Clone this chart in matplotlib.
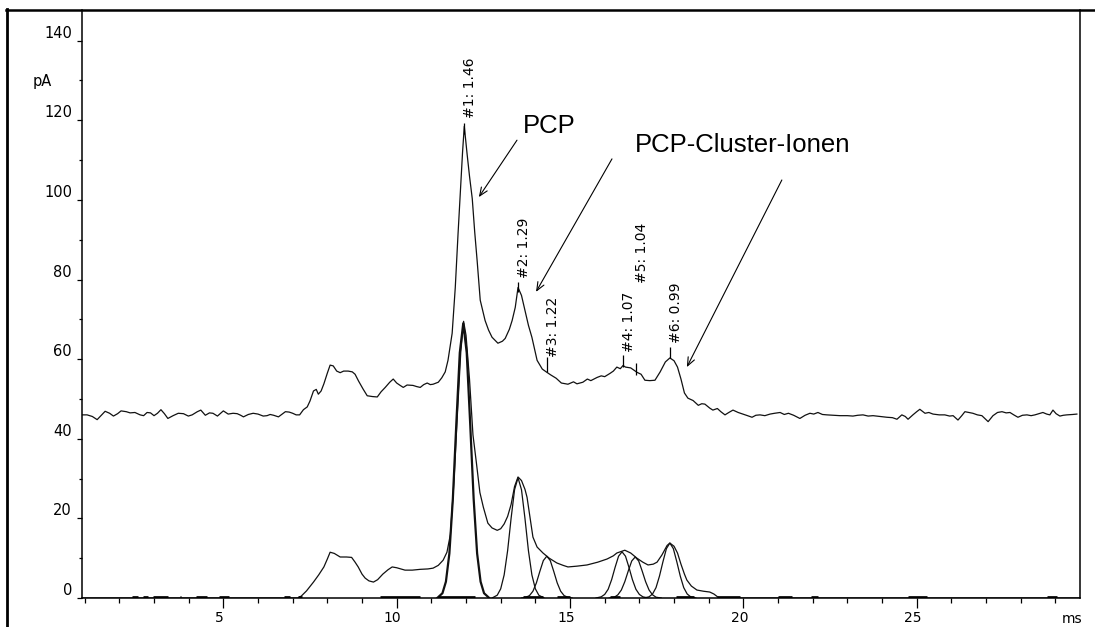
import matplotlib
matplotlib.use("Agg")
import matplotlib.pyplot as plt
import matplotlib.transforms as mtransforms
from matplotlib.lines import Line2D
from matplotlib.ticker import MultipleLocator


# trace du haut : signal brut (temps en ms, courant en pA)
haut_x = [0.93, 1.07, 1.22, 1.36, 1.48, 1.59, 1.72, 1.83, 1.95, 2.05, 2.2, 2.31,
          2.45, 2.6, 2.7, 2.8, 2.9, 3.0, 3.1, 3.2, 3.3, 3.4, 3.55, 3.7, 3.85,
          3.99, 4.1, 4.25, 4.35, 4.48, 4.6, 4.7, 4.83, 4.92, 5.0, 5.14, 5.28,
          5.4, 5.5, 5.58, 5.72, 5.86, 6.0, 6.15, 6.26, 6.35, 6.45, 6.59, 6.7,
          6.79, 6.9, 7.0, 7.1, 7.2, 7.31, 7.42, 7.5, 7.6, 7.68, 7.74, 7.82,
          7.9, 8.0, 8.08, 8.17, 8.27, 8.37, 8.47, 8.6, 8.72, 8.8, 8.9, 9.03,
          9.15, 9.3, 9.44, 9.55, 9.67, 9.8, 9.9, 10.0, 10.1, 10.19, 10.3,
          10.47, 10.58, 10.68, 10.78, 10.88, 10.97, 11.05, 11.2, 11.3, 11.4,
          11.48, 11.6, 11.69, 11.77, 11.85, 11.9, 11.95, 12.03, 12.1, 12.18,
          12.25, 12.32, 12.41, 12.55, 12.65, 12.75, 12.92, 13.05, 13.13, 13.25,
          13.33, 13.42, 13.5, 13.6, 13.7, 13.8, 13.9, 14.05, 14.2, 14.33,
          14.45, 14.6, 14.75, 14.94, 15.1, 15.2, 15.37, 15.5, 15.6, 15.78,
          15.9, 16.0, 16.15, 16.25, 16.35, 16.45, 16.53, 16.6, 16.75, 16.93,
          17.05, 17.16, 17.3, 17.45, 17.6, 17.75, 17.88, 18.0, 18.1, 18.2,
          18.3, 18.4, 18.55, 18.7, 18.8, 18.89, 19.03, 19.12, 19.25, 19.35,
          19.47, 19.58, 19.7, 19.85, 19.99, 20.12, 20.25, 20.36, 20.48, 20.62,
          20.77, 20.9, 21.06, 21.18, 21.3, 21.45, 21.63, 21.78, 21.92, 22.03,
          22.15, 22.28, 22.41, 22.6, 22.79, 23.0, 23.16, 23.3, 23.45, 23.6,
          23.74, 23.95, 24.14, 24.3, 24.43, 24.57, 24.67, 24.75, 24.89, 25.0,
          25.09, 25.24, 25.35, 25.47, 25.65, 25.81, 25.95, 26.05, 26.19, 26.3,
          26.39, 26.5, 26.62, 26.75, 26.88, 27.06, 27.2, 27.33, 27.46, 27.58,
          27.69, 27.8, 27.92, 28.05, 28.18, 28.3, 28.41, 28.52, 28.64, 28.75,
          28.84, 28.93, 29.02, 29.13, 29.23, 29.33, 29.5, 29.62]
haut_y = [46.0, 46.0, 45.6, 44.8, 45.9, 46.9, 46.4, 45.7, 46.3, 47.0, 46.8, 46.5,
          46.6, 46.0, 45.8, 46.6, 46.5, 45.8, 46.4, 47.3, 46.3, 45.1, 45.8, 46.4,
          46.3, 45.7, 46.0, 46.8, 47.2, 45.9, 46.5, 46.4, 45.7, 46.4, 47.0, 46.2,
          46.4, 46.3, 45.9, 45.5, 46.1, 46.4, 46.2, 45.7, 45.8, 46.1, 45.9, 45.5,
          46.2, 46.8, 46.7, 46.4, 46.0, 46.0, 47.3, 48.0, 49.5, 52.0, 52.4, 51.2,
          52.0, 53.8, 56.5, 58.5, 58.3, 57.0, 56.6, 57.0, 57.0, 56.8, 56.2, 54.5,
          52.5, 50.8, 50.6, 50.5, 51.8, 52.9, 54.2, 55.0, 54.0, 53.4, 52.9, 53.5,
          53.4, 53.1, 52.9, 53.6, 54.0, 53.6, 53.7, 54.2, 55.3, 56.8, 59.7, 66.5,
          78.0, 91.5, 104.0, 112.0, 118.5, 111.6, 106.0, 100.3, 92.0, 84.8, 74.8,
          69.7, 67.3, 65.5, 64.0, 64.5, 65.2, 67.5, 69.7, 73.0, 78.0, 76.0, 72.3,
          68.5, 65.5, 59.7, 57.5, 56.7, 56.0, 55.2, 54.0, 53.7, 54.3, 53.8, 54.2,
          55.0, 54.6, 55.4, 55.8, 55.6, 56.4, 57.0, 58.0, 57.6, 58.4, 58.0, 57.8,
          56.7, 56.2, 54.7, 54.6, 54.7, 56.8, 59.3, 60.3, 59.6, 58.0, 55.0, 51.5,
          50.2, 49.6, 48.4, 48.8, 48.7, 47.7, 47.2, 47.6, 46.8, 46.0, 46.6, 47.2,
          46.6, 46.2, 45.8, 45.4, 45.9, 46.0, 45.8, 46.2, 46.4, 46.6, 46.1, 46.4,
          45.9, 45.1, 45.9, 46.4, 46.2, 46.6, 46.1, 46.0, 45.9, 45.8, 45.8, 45.7,
          45.9, 46.0, 45.7, 45.8, 45.6, 45.4, 45.3, 44.9, 46.0, 45.6, 44.9, 46.0,
          46.8, 47.4, 46.4, 46.6, 46.2, 46.0, 46.0, 45.7, 45.8, 44.7, 45.8, 46.8,
          46.6, 46.4, 46.0, 45.8, 44.3, 45.8, 46.6, 46.8, 46.5, 46.6, 46.0, 45.4,
          45.9, 46.0, 45.8, 46.0, 46.3, 46.6, 46.2, 46.0, 47.2, 46.3, 45.7, 45.9,
          46.0, 46.1, 46.2]

# trace du bas : signal apres correction de la ligne de base
bas_x = [0.93, 7.15, 7.25, 7.4, 7.6, 7.75, 7.9, 8.0, 8.08, 8.2, 8.37, 8.55, 8.7,
         8.8, 8.89, 9.0, 9.09, 9.2, 9.33, 9.45, 9.6, 9.75, 9.87, 10.0, 10.24,
         10.45, 10.68, 10.9, 11.05, 11.2, 11.34, 11.45, 11.55, 11.65, 11.75,
         11.85, 11.93, 12.0, 12.1, 12.2, 12.3, 12.4, 12.5, 12.63, 12.75, 12.9,
         13.0, 13.1, 13.2, 13.3, 13.4, 13.5, 13.6, 13.7, 13.76, 13.85, 13.93,
         14.05, 14.22, 14.4, 14.62, 14.8, 14.94, 15.2, 15.49, 15.8, 16.07,
         16.25, 16.35, 16.58, 16.75, 16.93, 17.1, 17.25, 17.4, 17.51, 17.65,
         17.8, 17.88, 18.0, 18.1, 18.2, 18.3, 18.37, 18.5, 18.66, 18.85, 19.03,
         19.15, 19.3, 29.7]
bas_y = [0.0, 0.0, 0.5, 1.8, 4.0, 5.8, 7.8, 9.8, 11.5, 11.2, 10.3, 10.3, 10.2,
         9.0, 7.8, 6.0, 5.0, 4.3, 4.0, 4.6, 6.0, 7.1, 7.8, 7.6, 7.0, 7.0, 7.2,
         7.3, 7.5, 8.2, 9.5, 11.5, 16.0, 29.0, 46.0, 62.0, 69.5, 66.0, 55.0,
         41.0, 33.9, 26.5, 22.8, 18.8, 17.6, 17.0, 17.4, 18.6, 20.5, 23.5, 28.0,
         30.4, 29.5, 27.3, 25.3, 20.0, 15.3, 12.8, 11.3, 10.0, 8.8, 8.2, 7.8,
         8.0, 8.3, 9.0, 9.8, 10.6, 11.3, 12.0, 11.3, 10.0, 9.0, 8.3, 8.5, 9.0,
         10.8, 13.2, 13.8, 13.0, 11.3, 8.5, 6.0, 4.5, 3.0, 2.0, 1.7, 1.5, 1.0,
         0.0, 0.0]

# pics ajustes (composantes)
comp1_x = [11.17, 11.32, 11.42, 11.52, 11.62, 11.72, 11.82, 11.92, 12.02, 12.12,
           12.22, 12.32, 12.42, 12.52, 12.67]
comp1_y = [0, 1.2, 4.1, 11.2, 24.9, 43.8, 61.6, 69.0, 61.6, 43.8, 24.9, 11.2,
           4.1, 1.2, 0]
comp2_x = [12.75, 12.9, 13.0, 13.1, 13.2, 13.3, 13.4, 13.5, 13.6, 13.7, 13.8,
           13.9, 14.0, 14.1, 14.25]
comp2_y = [0, 0.7, 2.3, 5.8, 11.9, 20.0, 27.2, 30.2, 27.2, 20.0, 11.9, 5.8, 2.3,
           0.7, 0]
comp3_x = [13.6, 13.73, 13.83, 13.93, 14.03, 14.13, 14.23, 14.33, 14.43, 14.53,
           14.63, 14.73, 14.83, 14.93, 15.06]
comp3_y = [0, 0.2, 0.6, 1.7, 3.8, 6.7, 9.4, 10.5, 9.4, 6.7, 3.8, 1.7, 0.6, 0.2, 0]
comp4_x = [15.75, 15.9, 16.0, 16.1, 16.2, 16.3, 16.4, 16.5, 16.6, 16.7, 16.8,
           16.9, 17.0, 17.1, 17.25]
comp4_y = [0, 0.3, 0.9, 2.2, 4.6, 7.7, 10.5, 11.6, 10.5, 7.7, 4.6, 2.2, 0.9, 0.3, 0]
comp5_x = [16.13, 16.28, 16.38, 16.48, 16.58, 16.68, 16.78, 16.88, 16.98, 17.08,
           17.18, 17.28, 17.38, 17.48, 17.63]
comp5_y = [0, 0.2, 0.8, 2.0, 4.1, 6.8, 9.3, 10.3, 9.3, 6.8, 4.1, 2.0, 0.8, 0.2, 0]
comp6_x = [17.13, 17.28, 17.38, 17.48, 17.58, 17.68, 17.78, 17.88, 17.98, 18.08,
           18.18, 18.28, 18.38, 18.48, 18.63]
comp6_y = [0, 0.3, 1.0, 2.6, 5.5, 9.1, 12.4, 13.8, 12.4, 9.1, 5.5, 2.6, 1.0, 0.3, 0]

# petits segments epais sur la ligne de base (debut, fin) en ms
base_debut = [2.37, 2.68, 2.97, 3.74, 4.21, 4.87, 6.75, 7.15, 9.52, 11.19,
              13.64, 14.62, 16.15, 18.05, 19.24, 21.0, 21.95, 24.75, 28.76]
base_fin = [2.54, 2.83, 3.40, 3.78, 4.53, 5.16, 6.92, 7.27, 10.67, 12.26,
            14.22, 15.0, 16.44, 18.58, 19.9, 21.4, 22.15, 25.3, 29.04]

# marques des pics sur la trace du haut
pic_noms = ["#1: 1.46", "#2: 1.29", "#3: 1.22", "#4: 1.07", "#5: 1.04", "#6: 0.99"]
pic_x = [11.93, 13.5, 14.33, 16.54, 16.89, 17.88]
pic_bas = [116.6, 76.9, 56.8, 58.0, 56.0, 60.3]
pic_haut = [119.3, 79.4, 60.5, 61.0, 59.0, 63.0]
pic_texte_y = [120.6, 80.4, 60.5, 61.8, 79.1, 64.1]


def main():
    fig = plt.figure(figsize=(10.95, 6.27), dpi=100)
    ax = fig.add_axes([82 / 1095, 29 / 627, 998 / 1095, 588 / 627])

    trait = dict(color="#111111", lw=0.9)
    ax.plot(haut_x, haut_y, **trait)
    ax.plot(bas_x, bas_y, **trait)
    comps = [(comp1_x, comp1_y), (comp2_x, comp2_y), (comp3_x, comp3_y),
             (comp4_x, comp4_y), (comp5_x, comp5_y), (comp6_x, comp6_y)]
    for i, (cx, cy) in enumerate(comps):
        ax.plot(cx, cy, color="#111111", lw=1.6 if i == 0 else 0.9)
    # seule la moitie haute reste visible (coupee par l'axe)
    ax.hlines([0] * len(base_debut), base_debut, base_fin,
              color="black", lw=3.4)

    # traits verticaux + etiquettes des pics
    ax.vlines(pic_x, pic_bas, pic_haut, color="black", lw=0.9)
    for nom, px, ty in zip(pic_noms, pic_x, pic_texte_y):
        ax.text(px - 0.03, ty, nom, rotation=90, ha="left", va="bottom",
                fontsize=10, family="DejaVu Sans")

    # annotations
    police = dict(fontsize=18.5, family="Liberation Sans")
    fleche = dict(arrowstyle="->,head_length=0.6,head_width=0.25",
                  lw=0.8, color="black", shrinkA=0, shrinkB=0)
    ax.text(13.64, 116.8, "PCP", **police)
    ax.text(16.87, 112.0, "PCP-Cluster-Ionen", **police)
    ax.annotate("", xy=(12.37, 100.7), xytext=(13.47, 115.0),
                arrowprops=fleche, annotation_clip=False)
    ax.annotate("", xy=(14.02, 76.9), xytext=(16.21, 110.3),
                arrowprops=fleche, annotation_clip=False)
    ax.annotate("", xy=(18.37, 58.0), xytext=(21.11, 105.0),
                arrowprops=fleche, annotation_clip=False)

    ax.set_xlim(0.923, 29.71)
    ax.set_ylim(0, 147.7)

    ax.xaxis.set_major_locator(MultipleLocator(5))
    ax.xaxis.set_minor_locator(MultipleLocator(1))
    ax.yaxis.set_major_locator(MultipleLocator(20))
    ax.yaxis.set_minor_locator(MultipleLocator(10))
    ax.tick_params(axis="x", which="major", length=7, width=0.9, pad=2.5,
                   labelsize=10, direction="out")
    ax.tick_params(axis="x", which="minor", length=3.5, width=0.9,
                   direction="out")
    ax.tick_params(axis="y", which="major", length=3.6, width=0.9, pad=3.6,
                   labelsize=10.5, direction="out")
    ax.tick_params(axis="y", which="minor", length=2.2, width=0.9,
                   direction="out")

    for sp in ["left", "bottom", "right"]:
        ax.spines[sp].set_linewidth(1.1)
    ax.spines["top"].set_visible(False)

    # on decale les libelles comme sur l'original
    dx = mtransforms.ScaledTranslation(-4 / 100, 0, fig.dpi_scale_trans)
    for lab in ax.get_xticklabels():
        lab.set_transform(lab.get_transform() + dx)
    for lab in ax.get_yticklabels():
        lab.set_verticalalignment("bottom")

    fig.text(33 / 1095, 1 - 86 / 627, "pA", fontsize=10.5, va="baseline")
    fig.text(1062 / 1095, 1 - 612 / 627, "ms", fontsize=10, va="top")

    # cadre exterieur
    fig.add_artist(Line2D([6 / 1095, 1], [1 - 10 / 627, 1 - 10 / 627],
                          transform=fig.transFigure, color="black", lw=1.8))
    fig.add_artist(Line2D([6.5 / 1095, 6.5 / 1095], [0, 1 - 9 / 627],
                          transform=fig.transFigure, color="black", lw=2.0))

    fig.savefig("out.png", dpi=100)


if __name__ == "__main__":
    main()
